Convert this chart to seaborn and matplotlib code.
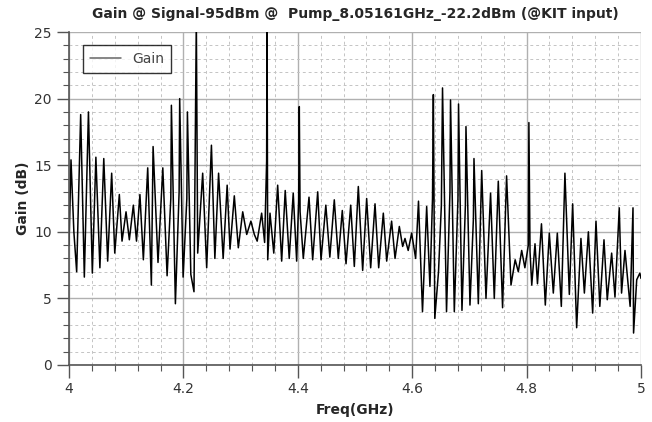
import matplotlib
matplotlib.use("Agg")
import matplotlib.pyplot as plt
from matplotlib.ticker import MultipleLocator
import seaborn as sns

# Gain trace (frequency in GHz, gain in dB)
freq = [
    4.0000, 4.0035, 4.0085, 4.0134, 4.0204, 4.0268, 4.0340, 4.0408, 4.0470, 4.0540,
    4.0608, 4.0676, 4.0746, 4.0800, 4.0880, 4.0927, 4.0997, 4.1055, 4.1125, 4.1180,
    4.1240, 4.1300, 4.1376, 4.1440, 4.1470, 4.1556, 4.1640, 4.1715, 4.1780, 4.1790,
    4.1860, 4.1925, 4.1935, 4.1995, 4.2060, 4.2070, 4.2130, 4.2185, 4.2226, 4.2250,
    4.2337, 4.2407, 4.2490, 4.2550, 4.2615, 4.2695, 4.2765, 4.2815, 4.2890, 4.2960,
    4.3037, 4.3107, 4.3180, 4.3240, 4.3290, 4.3368, 4.3420, 4.3455, 4.3462, 4.3474,
    4.3514, 4.3580, 4.3648, 4.3718, 4.3780, 4.3850, 4.3920, 4.3980, 4.4015, 4.4026,
    4.4040, 4.4096, 4.4196, 4.4260, 4.4348, 4.4406, 4.4490, 4.4560, 4.4638, 4.4708,
    4.4778, 4.4843, 4.4925, 4.4988, 4.5058, 4.5134, 4.5204, 4.5274, 4.5350, 4.5414,
    4.5495, 4.5554, 4.5640, 4.5700, 4.5775, 4.5833, 4.5874, 4.5930, 4.5990, 4.6060,
    4.6110, 4.6180, 4.6253, 4.6310, 4.6355, 4.6370, 4.6395, 4.6460, 4.6510, 4.6530,
    4.6600, 4.6660, 4.6670, 4.6736, 4.6800, 4.6810, 4.6870, 4.6930, 4.6940, 4.7010,
    4.7070, 4.7080, 4.7156, 4.7215, 4.7290, 4.7370, 4.7435, 4.7505, 4.7580, 4.7650,
    4.7727, 4.7800, 4.7855, 4.7914, 4.7970, 4.8030, 4.8040, 4.8060, 4.8090, 4.8147,
    4.8190, 4.8260, 4.8327, 4.8397, 4.8467, 4.8537, 4.8607, 4.8670, 4.8747, 4.8805,
    4.8875, 4.8950, 4.9010, 4.9080, 4.9155, 4.9213, 4.9280, 4.9353, 4.9410, 4.9487,
    4.9545, 4.9620, 4.9660, 4.9720, 4.9810, 4.9860, 4.9870, 4.9925, 4.9980, 5.0000,
]
gain = [
    9.0, 15.4, 10.0, 7.0, 18.8, 6.6, 19.0, 6.9, 15.6, 7.3,
    15.5, 7.8, 14.4, 8.4, 12.8, 9.3, 11.5, 9.4, 12.0, 9.3,
    12.8, 7.9, 14.8, 6.0, 16.4, 7.7, 14.8, 6.7, 12.5, 19.5,
    4.6, 13.0, 20.0, 6.6, 12.5, 19.0, 6.8, 5.5, 26.0, 8.4,
    14.4, 7.3, 16.5, 8.0, 14.4, 8.0, 13.5, 8.7, 12.7, 8.8,
    11.5, 9.8, 10.8, 9.8, 9.3, 11.4, 9.2, 15.3, 26.0, 7.9,
    11.4, 8.4, 13.5, 7.8, 13.1, 8.0, 12.9, 7.8, 12.3, 19.4,
    11.5, 8.0, 12.6, 7.9, 13.0, 7.9, 12.0, 8.1, 12.4, 8.0,
    11.6, 7.6, 12.0, 7.4, 13.4, 7.1, 12.5, 7.3, 12.1, 7.3,
    11.4, 7.8, 10.8, 8.0, 10.4, 8.9, 9.5, 8.6, 9.9, 8.0,
    12.3, 4.0, 11.9, 5.9, 12.5, 20.3, 3.5, 7.0, 12.0, 20.8,
    4.0, 13.0, 19.9, 4.0, 12.5, 19.6, 4.1, 12.0, 17.9, 4.5,
    11.0, 15.5, 4.6, 14.6, 5.0, 12.9, 5.0, 13.8, 4.3, 14.2,
    6.0, 7.9, 7.0, 8.6, 7.3, 9.0, 18.2, 8.5, 6.0, 9.1,
    6.1, 10.6, 4.5, 9.9, 5.4, 9.9, 4.4, 14.4, 5.3, 12.1,
    2.8, 9.5, 5.4, 10.0, 3.9, 10.8, 4.4, 9.4, 4.9, 8.4,
    5.1, 11.8, 5.4, 8.6, 4.4, 11.8, 2.4, 6.4, 6.9, 6.5,
]

title = "Gain @ Signal-95dBm @  Pump_8.05161GHz_-22.2dBm (@KIT input)"

sns.set_style("white")
plt.rcParams["font.family"] = ["DejaVu Sans"]

fig, ax = plt.subplots(figsize=(6.52, 4.22), dpi=100)
fig.subplots_adjust(left=69/652, right=641/652, bottom=57/422, top=390/422)

sns.lineplot(x=freq, y=gain, ax=ax, color="black", linewidth=1.1,
             label="Gain", sort=False, estimator=None)

ax.set_xlim(4, 5)
ax.set_ylim(0, 25)
ax.xaxis.set_minor_locator(MultipleLocator(0.04))
ax.yaxis.set_major_locator(MultipleLocator(5))
ax.yaxis.set_minor_locator(MultipleLocator(1))
ax.set_xticks([4, 4.2, 4.4, 4.6, 4.8, 5])
ax.set_xticklabels(["4", "4.2", "4.4", "4.6", "4.8", "5"])

# solid major grid, dashed minor grid
ax.grid(which="major", color="#b0b0b0", linewidth=1.0, linestyle="-")
ax.grid(which="minor", color="#c4c4c4", linewidth=0.7, linestyle=(0, (3, 3)))
ax.set_axisbelow(True)

for s in ["top", "right"]:
    ax.spines[s].set_visible(False)
for s in ["left", "bottom"]:
    ax.spines[s].set_color("#555555")
    ax.spines[s].set_linewidth(1.2)

ax.tick_params(which="major", direction="out", length=9, width=1, color="#555555",
               labelsize=10, labelcolor="#333333", left=True, bottom=True)
ax.tick_params(which="minor", direction="out", length=4, width=0.8, color="#555555",
               left=True, bottom=True)

ax.set_title(title, fontsize=10, fontweight="bold", pad=10)
ax.set_xlabel("Freq(GHz)", fontsize=10, fontweight="bold", labelpad=5)
ax.set_ylabel("Gain (dB)", fontsize=10, fontweight="bold", labelpad=3)

leg = ax.legend(loc="upper left", bbox_to_anchor=(0.025, 0.962), frameon=True,
                fancybox=False, borderaxespad=0, fontsize=10, handlelength=2.2,
                borderpad=0.5)
leg.get_frame().set_edgecolor("black")
leg.get_frame().set_linewidth(1.0)
leg.get_lines()[0].set_color("#666666")
for t in leg.get_texts():
    t.set_color("#444444")

plt.savefig("out.png", dpi=100)
plt.close()
